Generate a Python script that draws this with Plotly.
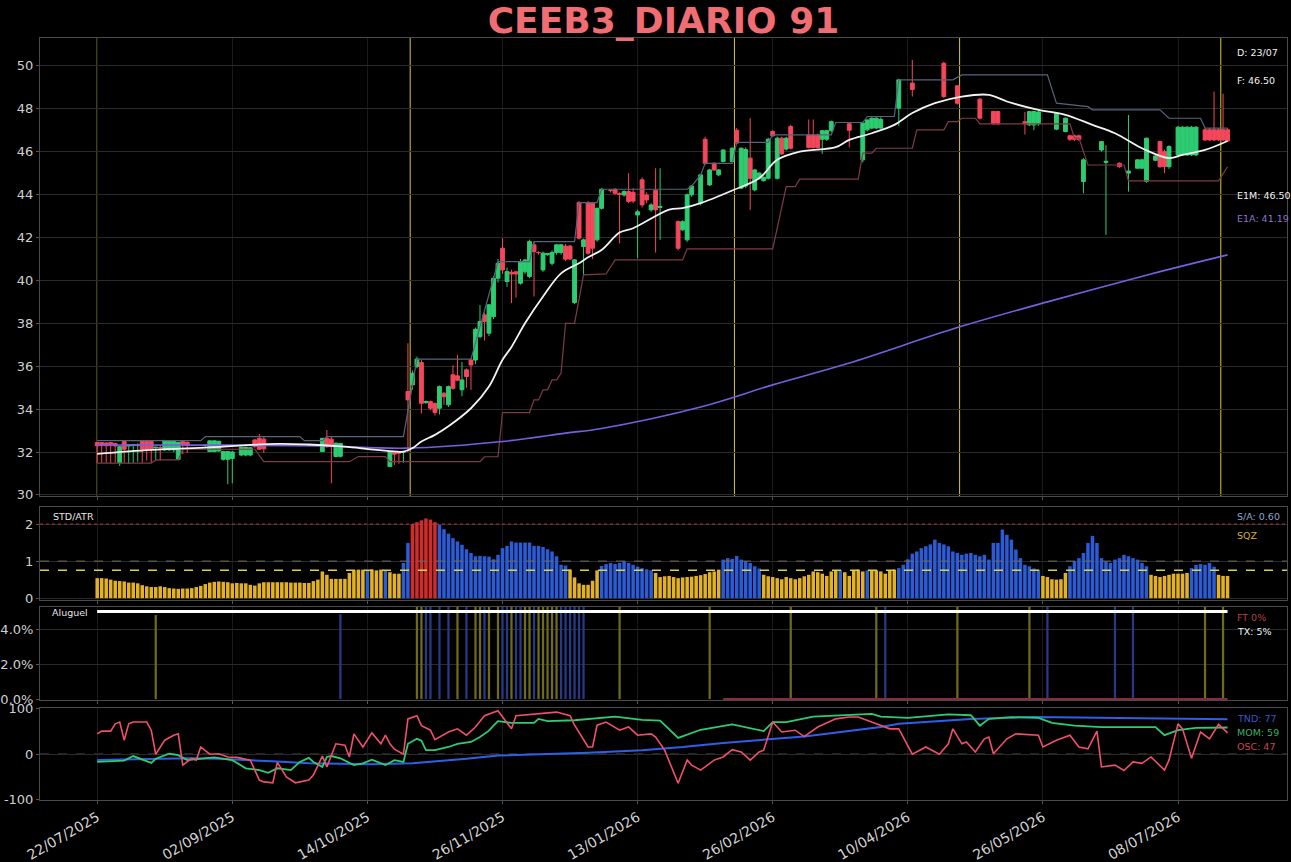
import plotly.graph_objects as go

# ---------------- data ----------------
TITLE = "CEEB3_DIARIO 91"
tick_idx = [0, 30, 60, 90, 120, 150, 180, 210, 240]
tick_labels = ["22/07/2025", "02/09/2025", "14/10/2025", "26/11/2025", "13/01/2026",
               "26/02/2026", "10/04/2026", "26/05/2026", "08/07/2026"]

open_ = [
    32.44, 32.44, 32.42, 32.44, 32.40, 31.50, 32.49, 32.28, 32.30, 32.30,
    32.49, 32.49, 32.49, 32.20, 32.20, 32.10, 32.10, 32.10, 31.66, 32.50,
    32.45, 32.30, 32.30, 32.30, 32.30, 32.02, 32.02, 32.05, 31.66, 31.66,
    31.70, 31.90, 31.86, 31.86, 31.86, 32.56, 32.64, 32.60, 32.20, 32.20,
    32.20, 32.20, 32.20, 32.20, 32.20, 32.20, 32.20, 32.20, 32.20, 32.20,
    32.02, 32.64, 32.60, 31.79, 31.80, 31.86, 32.05, 32.05, 32.05, 32.05,
    32.05, 32.05, 32.05, 32.05, 32.05, 31.32, 32.00, 32.00, 32.00, 34.82,
    35.13, 35.98, 36.17, 34.30, 34.35, 34.27, 34.04, 34.74, 34.20, 35.60,
    35.55, 34.90, 35.83, 36.29, 36.29, 37.38, 38.39, 37.54, 38.31, 40.10,
    41.50, 39.95, 40.38, 40.40, 39.87, 40.40, 40.18, 41.66, 41.30, 40.49,
    41.20, 40.80, 41.30, 41.30, 41.60, 41.60, 38.97, 43.63, 41.58, 43.63,
    43.60, 41.89, 43.36, 44.25, 44.20, 44.25, 44.05, 43.98, 44.14, 44.10,
    43.05, 44.69, 43.98, 43.29, 44.20, 43.40, 43.20, 43.00, 42.80, 42.74,
    42.36, 41.89, 43.99, 44.30, 43.60, 46.58, 44.45, 45.46, 44.92, 45.54,
    46.00, 45.54, 47.00, 44.30, 44.40, 45.70, 44.22, 44.76, 44.65, 44.76,
    46.94, 44.76, 46.63, 46.12, 47.17, 46.20, 46.20, 46.25, 46.78, 46.78,
    46.78, 46.58, 46.58, 46.98, 47.30, 47.30, 47.30, 47.30, 47.00, 47.00,
    45.62, 47.02, 47.10, 47.10, 47.10, 47.50, 47.60, 47.70, 48.03, 49.30,
    49.20, 49.20, 49.00, 49.00, 49.00, 49.00, 49.00, 49.00, 50.12, 48.60,
    48.60, 49.07, 48.30, 48.30, 48.30, 48.30, 48.45, 47.60, 47.60, 47.87,
    47.87, 47.35, 47.35, 47.35, 47.35, 47.35, 47.40, 47.25, 47.25, 47.30,
    47.80, 47.80, 47.80, 47.05, 47.60, 46.94, 46.74, 46.74, 46.74, 44.61,
    45.60, 45.60, 45.80, 46.08, 45.50, 45.50, 45.45, 45.46, 45.30, 45.00,
    45.20, 45.23, 45.23, 44.61, 45.70, 45.60, 46.47, 46.00, 45.30, 46.20,
    45.85, 45.85, 45.85, 45.85, 45.85, 47.10, 47.02, 47.02, 47.02, 47.02,
    47.02, 47.02,
]
high = [
    32.46, 32.46, 32.45, 32.45, 32.42, 32.30, 32.50, 32.35, 32.36, 32.40,
    32.50, 32.50, 32.52, 32.25, 32.30, 32.55, 32.54, 32.52, 32.47, 32.52,
    32.50, 32.35, 32.35, 32.35, 32.35, 32.54, 32.54, 32.52, 32.05, 32.05,
    32.05, 31.95, 32.25, 32.25, 32.22, 32.60, 32.84, 32.70, 32.24, 32.24,
    32.24, 32.24, 32.24, 32.24, 32.24, 32.24, 32.24, 32.24, 32.24, 32.24,
    32.66, 33.03, 32.70, 32.45, 32.42, 31.90, 32.08, 32.08, 32.08, 32.08,
    32.08, 32.08, 32.08, 32.08, 32.08, 32.05, 32.02, 32.02, 32.02, 37.07,
    35.80, 36.45, 36.30, 34.40, 34.40, 34.30, 35.10, 34.80, 35.10, 36.05,
    36.53, 36.20, 35.90, 36.35, 37.80, 38.85, 38.50, 38.90, 40.20, 41.00,
    41.97, 40.60, 40.50, 40.45, 41.00, 41.00, 41.90, 41.80, 41.35, 41.35,
    41.28, 41.40, 41.70, 41.70, 41.70, 41.65, 41.00, 43.70, 41.95, 43.70,
    43.65, 43.40, 44.30, 44.30, 44.25, 44.30, 44.10, 44.20, 45.00, 44.30,
    43.30, 44.80, 44.10, 43.60, 45.23, 45.23, 43.25, 43.05, 42.85, 42.80,
    42.80, 44.05, 44.45, 44.35, 44.95, 46.70, 45.20, 45.50, 45.20, 46.10,
    46.05, 46.20, 47.10, 46.20, 46.20, 47.56, 45.20, 45.05, 44.85, 46.65,
    47.00, 46.70, 46.70, 46.70, 47.25, 46.25, 46.25, 46.30, 47.50, 47.50,
    46.85, 47.00, 47.00, 47.45, 47.35, 47.35, 47.35, 47.35, 47.05, 47.05,
    47.40, 47.50, 47.60, 47.60, 47.60, 47.55, 47.65, 47.75, 49.40, 49.35,
    49.25, 50.28, 49.05, 49.05, 49.05, 49.05, 49.05, 49.05, 50.20, 48.65,
    48.65, 49.10, 48.35, 48.35, 48.35, 48.35, 48.50, 47.65, 47.65, 47.90,
    47.90, 47.40, 47.40, 47.40, 47.40, 47.40, 47.85, 47.90, 47.90, 47.90,
    47.85, 47.85, 47.85, 47.85, 47.65, 47.60, 46.80, 46.80, 46.80, 45.70,
    45.65, 45.65, 45.85, 46.50, 46.30, 45.55, 45.50, 45.50, 45.35, 47.71,
    45.25, 45.65, 45.65, 46.65, 45.75, 45.85, 46.50, 46.10, 46.30, 46.25,
    47.20, 47.20, 47.20, 47.20, 47.20, 47.15, 47.10, 47.10, 48.80, 47.10,
    48.70, 47.10,
]
low = [
    31.48, 31.50, 31.50, 31.48, 31.50, 31.35, 31.50, 31.45, 31.50, 31.55,
    31.50, 31.60, 31.50, 31.60, 31.60, 32.05, 32.05, 32.00, 31.62, 31.90,
    31.95, 32.25, 32.25, 32.25, 32.25, 32.00, 32.00, 32.00, 31.60, 30.50,
    30.54, 31.85, 31.80, 31.80, 31.80, 32.20, 32.10, 31.95, 32.16, 32.16,
    32.16, 32.16, 32.16, 32.16, 32.16, 32.16, 32.16, 32.16, 32.16, 32.16,
    32.00, 32.20, 30.54, 31.75, 31.75, 31.82, 32.02, 32.02, 32.02, 32.02,
    32.02, 32.02, 32.02, 32.02, 32.02, 31.30, 31.40, 31.45, 31.50, 32.00,
    34.90, 35.90, 33.80, 34.25, 33.95, 33.70, 33.75, 34.20, 34.10, 34.90,
    35.30, 34.60, 35.00, 34.90, 36.10, 37.30, 37.20, 37.40, 38.20, 39.90,
    40.30, 39.70, 38.94, 39.20, 39.80, 40.30, 40.10, 39.25, 41.20, 40.40,
    41.15, 40.70, 41.20, 41.20, 40.90, 40.95, 38.90, 41.90, 40.20, 41.20,
    41.00, 41.80, 43.30, 44.20, 44.10, 44.00, 41.73, 43.90, 43.60, 43.60,
    41.03, 43.40, 43.60, 43.20, 41.30, 41.89, 43.15, 42.95, 42.75, 41.40,
    42.30, 41.80, 43.90, 44.25, 43.50, 45.40, 44.40, 45.10, 44.85, 45.50,
    45.95, 45.50, 46.35, 44.25, 44.30, 43.29, 44.15, 44.70, 44.60, 44.70,
    46.70, 44.70, 45.85, 46.05, 46.10, 46.15, 46.15, 46.20, 46.15, 46.15,
    46.15, 45.90, 46.50, 46.90, 47.25, 47.25, 47.25, 46.20, 46.95, 46.95,
    45.50, 46.95, 47.05, 47.05, 47.05, 47.45, 47.55, 47.65, 47.20, 49.25,
    49.15, 48.57, 48.95, 48.95, 48.95, 48.95, 48.95, 48.95, 48.50, 48.55,
    48.55, 48.20, 48.25, 48.25, 48.25, 48.25, 47.50, 47.55, 47.55, 47.25,
    47.25, 47.30, 47.30, 47.30, 47.30, 47.30, 46.80, 47.20, 47.00, 47.20,
    47.75, 47.75, 47.75, 47.00, 47.55, 46.90, 46.50, 46.50, 46.50, 44.06,
    45.55, 45.55, 45.75, 46.00, 42.12, 45.45, 45.40, 45.25, 45.25, 44.14,
    45.15, 45.20, 45.20, 44.55, 45.65, 45.55, 45.25, 45.00, 45.20, 46.15,
    45.80, 45.80, 45.80, 45.80, 45.80, 47.05, 46.50, 46.50, 46.50, 46.50,
    46.50, 46.45,
]
close = [
    32.29, 32.30, 32.29, 32.30, 32.28, 32.25, 32.13, 32.33, 32.34, 32.33,
    32.13, 32.13, 32.15, 32.22, 32.20, 32.52, 32.52, 32.50, 32.45, 32.35,
    32.30, 32.30, 32.30, 32.30, 32.32, 32.52, 32.52, 32.50, 32.02, 32.02,
    32.00, 31.90, 32.22, 32.22, 32.20, 32.25, 32.13, 32.15, 32.20, 32.20,
    32.20, 32.20, 32.20, 32.20, 32.20, 32.20, 32.20, 32.20, 32.20, 32.20,
    32.64, 32.25, 32.30, 32.41, 32.40, 31.86, 32.05, 32.05, 32.05, 32.05,
    32.05, 32.05, 32.05, 32.05, 32.05, 32.02, 31.90, 31.95, 32.00, 34.43,
    35.67, 36.33, 34.27, 34.35, 34.04, 33.84, 35.05, 34.58, 35.05, 34.97,
    35.35, 35.36, 35.52, 36.06, 37.72, 38.08, 38.08, 38.86, 40.10, 40.80,
    40.49, 40.41, 40.30, 40.30, 40.88, 40.95, 41.81, 41.34, 41.30, 41.27,
    41.25, 41.30, 41.66, 41.66, 40.99, 41.00, 40.96, 41.97, 41.89, 41.27,
    41.50, 43.36, 44.25, 44.25, 44.20, 44.06, 44.00, 44.14, 43.68, 43.70,
    43.20, 43.52, 43.75, 43.52, 43.29, 43.45, 43.20, 43.00, 42.80, 41.50,
    42.74, 43.99, 44.40, 44.30, 44.92, 45.46, 45.15, 45.15, 45.15, 46.08,
    46.00, 46.16, 46.40, 46.16, 46.10, 44.76, 45.15, 45.00, 44.80, 46.58,
    46.74, 46.63, 45.90, 46.63, 46.16, 46.20, 46.20, 46.25, 46.20, 46.20,
    46.20, 46.98, 46.98, 47.40, 47.30, 47.30, 47.30, 47.00, 47.00, 47.00,
    47.33, 47.48, 47.56, 47.56, 47.50, 47.50, 47.60, 47.70, 49.35, 49.30,
    49.20, 48.90, 49.00, 49.00, 49.00, 49.00, 49.00, 49.00, 48.57, 48.60,
    48.60, 48.26, 48.30, 48.30, 48.30, 48.30, 47.56, 47.60, 47.60, 47.30,
    47.30, 47.35, 47.35, 47.35, 47.35, 47.35, 47.30, 47.87, 47.87, 47.85,
    47.80, 47.80, 47.80, 47.79, 47.60, 47.56, 46.58, 46.58, 46.58, 45.62,
    45.60, 45.60, 45.80, 46.47, 45.55, 45.50, 45.45, 45.30, 45.30, 45.10,
    45.20, 45.62, 45.62, 46.63, 45.70, 45.80, 45.30, 45.30, 46.24, 46.20,
    47.14, 47.14, 47.14, 47.14, 47.14, 47.10, 46.55, 46.55, 46.55, 46.55,
    46.55, 46.50,
]

e1m_idx = [0, 12, 25, 40, 47, 55, 62, 68, 70, 72, 75, 78, 83, 87, 90, 92, 95, 99, 103, 107,
           109, 112, 116, 119, 127, 130, 134, 141, 147, 151, 156, 164, 167, 172, 177, 181,
           186, 192, 198, 202, 209, 215, 221, 226, 232, 238, 241, 246, 251]
e1m_val = [31.91, 32.10, 32.22, 32.38, 32.35, 32.25, 32.10, 32.02, 32.18, 32.49, 32.80, 33.20,
           34.04, 35.05, 36.30, 36.90, 38.00, 39.25, 40.33, 40.80, 41.08, 41.42, 42.23, 42.43,
           43.30, 43.37, 43.60, 44.19, 44.76, 45.62, 46.00, 46.21, 46.55, 46.86, 47.25, 47.80,
           48.26, 48.57, 48.65, 48.34, 47.95, 47.72, 47.25, 46.86, 46.16, 45.70, 45.85, 46.08,
           46.50]
e1a_idx = [0, 30, 50, 69, 90, 104, 112, 134, 150, 167, 191, 211, 234, 251]
e1a_val = [32.33, 32.32, 32.28, 32.18, 32.49, 32.88, 33.10, 34.10, 35.13, 36.15, 37.80, 39.00,
           40.30, 41.19]

# channel (upper / lower)
up_idx = [0, 23, 24, 45, 46, 50, 51, 68, 71, 83, 88, 89, 96, 97, 106, 107, 111, 112, 131, 132,
          134, 135, 141, 142, 149, 150, 163, 164, 170, 171, 177, 178, 190, 192, 211, 213, 220,
          221, 236, 238, 245, 246, 251]
up_val = [32.53, 32.53, 32.72, 32.72, 32.53, 32.53, 32.72, 32.72, 36.33, 36.33, 40.10, 40.88,
          40.88, 41.81, 41.81, 43.63, 43.63, 44.25, 44.25, 44.40, 44.92, 45.46, 45.46, 46.43,
          46.43, 46.78, 46.78, 47.36, 47.36, 47.64, 47.64, 49.35, 49.35, 49.58, 49.58, 48.26,
          48.10, 47.95, 47.95, 47.56, 47.56, 47.10, 47.10]
lo_idx = [0, 12, 13, 18, 19, 35, 37, 56, 58, 64, 65, 85, 86, 89, 90, 96, 97, 98, 99, 100,
          101, 102, 103, 104, 106, 108, 113, 115, 130, 131, 150, 153, 155, 156, 169, 170, 172,
          173, 181, 182, 188, 189, 191, 192, 195, 196, 216, 217, 218, 220, 228, 229, 249, 251]
lo_val = [31.48, 31.48, 31.63, 31.63, 32.13, 32.13, 31.55, 31.55, 31.79, 31.79, 31.55, 31.55,
          31.78, 31.78, 33.84, 33.84, 34.43, 34.43, 34.90, 34.90, 35.36, 35.36, 35.67, 38.00,
          38.00, 40.26, 40.30, 40.96, 40.96, 41.47, 41.47, 44.37, 44.37, 44.72, 44.72, 45.93,
          45.93, 46.16, 46.16, 47.02, 47.02, 47.40, 47.40, 47.56, 47.56, 47.30, 47.30, 46.63,
          46.63, 45.38, 45.38, 44.64, 44.64, 45.30]

signal_idx = [0, 69.5, 141.5, 191.5, 249.5]

# STD/ATR
std_atr = [
    0.54, 0.54, 0.53, 0.50, 0.47, 0.46, 0.45, 0.42, 0.42, 0.40,
    0.35, 0.32, 0.30, 0.30, 0.32, 0.30, 0.27, 0.26, 0.25, 0.26,
    0.26, 0.27, 0.30, 0.33, 0.38, 0.42, 0.44, 0.45, 0.44, 0.43,
    0.40, 0.41, 0.40, 0.40, 0.36, 0.34, 0.40, 0.43, 0.43, 0.43,
    0.43, 0.43, 0.43, 0.42, 0.42, 0.42, 0.41, 0.41, 0.46, 0.50,
    0.72, 0.63, 0.52, 0.52, 0.52, 0.52, 0.68, 0.75, 0.77, 0.77,
    0.75, 0.77, 0.75, 0.77, 0.75, 0.70, 0.66, 0.66, 0.95, 1.49,
    2.00, 2.05, 2.10, 2.15, 2.12, 2.05, 1.98, 1.86, 1.74, 1.62,
    1.53, 1.44, 1.32, 1.22, 1.13, 1.14, 1.13, 1.12, 1.05, 1.17,
    1.35, 1.41, 1.53, 1.50, 1.50, 1.50, 1.50, 1.41, 1.41, 1.38,
    1.32, 1.26, 1.13, 0.90, 0.88, 0.77, 0.56, 0.40, 0.36, 0.36,
    0.47, 0.75, 0.87, 0.92, 0.95, 0.92, 0.95, 1.00, 0.95, 0.90,
    0.85, 0.81, 0.78, 0.75, 0.68, 0.57, 0.59, 0.60, 0.57, 0.54,
    0.56, 0.57, 0.58, 0.60, 0.62, 0.65, 0.70, 0.72, 0.77, 1.04,
    1.08, 1.06, 1.14, 1.04, 1.00, 0.95, 0.86, 0.80, 0.63, 0.59,
    0.57, 0.54, 0.51, 0.57, 0.54, 0.51, 0.54, 0.59, 0.63, 0.72,
    0.70, 0.66, 0.60, 0.72, 0.75, 0.76, 0.70, 0.60, 0.75, 0.77,
    0.72, 0.75, 0.74, 0.75, 0.72, 0.66, 0.75, 0.77, 0.81, 0.90,
    1.05, 1.20, 1.26, 1.35, 1.40, 1.45, 1.58, 1.49, 1.45, 1.40,
    1.26, 1.22, 1.17, 1.20, 1.22, 1.17, 1.13, 1.17, 1.04, 1.49,
    1.49, 1.85, 1.71, 1.58, 1.31, 1.08, 0.90, 0.86, 0.80, 0.77,
    0.60, 0.57, 0.51, 0.50, 0.51, 0.68, 0.86, 1.00, 1.08, 1.22,
    1.49, 1.68, 1.49, 1.08, 0.99, 0.95, 1.04, 1.08, 1.17, 1.13,
    1.08, 1.04, 0.95, 0.86, 0.63, 0.60, 0.57, 0.60, 0.63, 0.66,
    0.66, 0.66, 0.68, 0.81, 0.90, 0.92, 0.90, 0.95, 0.85, 0.63,
    0.60, 0.60,
]
# regime of each STD/ATR bar, run-length: (regime, number of bars)
std_regime_runs = [("Y", 60), ("B", 1), ("Y", 3), ("B", 1), ("Y", 3), ("B", 2), ("R", 6),
                   ("B", 29), ("Y", 7), ("B", 12), ("Y", 15), ("B", 9), ("Y", 17), ("B", 1),
                   ("Y", 5), ("B", 1), ("Y", 6), ("B", 32), ("Y", 6), ("B", 18), ("Y", 9),
                   ("B", 6), ("Y", 3)]
std_levels = {"high": 2.0, "mid": 1.0, "sqz": 0.75}

# Aluguel
alu_olive_idx = [13, 71, 72, 80, 84, 85, 87, 89, 92, 95, 96, 98, 99, 100, 101, 102, 116, 136,
                 154, 173, 191, 207, 246, 250]
alu_olive_val = [4.8, 5.3, 5.3, 5.3, 5.3, 5.3, 5.3, 5.3, 5.3, 5.3, 5.3, 5.3, 5.3, 5.3, 5.3, 5.3,
                 5.3, 5.3, 5.3, 5.3, 5.3, 5.3, 5.3, 5.3]
alu_blue_idx = [54, 73, 74, 76, 78, 82, 86, 90, 91, 93, 94, 97, 103, 104, 105, 106, 107, 108,
                175, 211, 226, 230]
alu_blue_val = [4.85, 5.3, 5.3, 5.3, 5.3, 5.3, 5.3, 5.3, 5.3, 5.3, 5.3, 5.3, 5.3, 5.3, 5.3, 5.3,
                5.3, 5.3, 5.3, 5.3, 5.3, 5.3]
tx_rate = 5.0
ft_rate = 0.0
ft_start = 139

# oscillators
osc_ticks = [-100, 0, 100]
osc_tick_labels = ["-100", "0", "100"]
tnd_idx = [0, 10, 20, 27, 33, 40, 47, 55, 61, 70, 77, 82, 89, 98, 109, 121, 130, 139, 148, 157,
           162, 168, 174, 178, 185, 194, 208, 231, 251]
tnd_val = [-13, -11, -9, -10, -12, -16, -20, -22, -22, -20, -15, -10, -3, 0, 3, 9, 16, 25, 32,
           39, 45, 53, 60, 67, 72, 78, 82, 80, 77]
mom_idx = [0, 6, 8, 12, 13, 16, 18, 20, 26, 30, 33, 36, 38, 40, 43, 45, 47, 48, 50, 51,
           52, 54, 57, 59, 61, 64, 66, 68, 69, 71, 72, 73, 75, 78, 80, 83, 85, 87, 88, 89,
           92, 97, 98, 100, 106, 109, 115, 121, 125, 129, 134, 141, 148, 150, 153, 159, 172,
           174, 180, 189, 194, 196, 198, 203, 209, 212, 217, 223, 231, 235, 237, 240, 244, 251]
mom_val = [-17, -14, -4, -19, -10, 1, -2, -13, -7, -13, -31, -35, -41, -31, -35, -17, -8, -17,
           -28, -6, -4, -9, -24, -20, -12, -24, -13, -17, 23, 34, 30, 9, 9, 16, 23, 27, 38, 52,
           63, 73, 69, 69, 78, 73, 75, 78, 83, 76, 74, 36, 54, 66, 51, 71, 71, 83, 89, 83, 80,
           88, 86, 63, 78, 82, 80, 69, 63, 60, 61, 60, 42, 53, 58, 59]
osc_idx = [0, 1, 3, 4, 5, 6, 7, 8, 11, 12, 13, 15, 17, 18, 19, 21, 22, 23, 25, 27, 29, 31, 34,
           36, 37, 39, 40, 42, 44, 47, 48, 50, 51, 53, 55, 56, 57, 59, 61, 63, 64, 65, 66, 68,
           69, 71, 72, 74, 75, 78, 80, 82, 84, 86, 89, 92, 93, 98, 102, 105, 106, 109, 110, 111,
           113, 116, 118, 120, 123, 124, 126, 129, 131, 132, 134, 135, 137, 139, 141, 143, 145,
           147, 148, 150, 152, 155, 157, 160, 164, 167, 169, 173, 176, 178, 181, 184, 187, 189,
           190, 192, 193, 195, 197, 198, 199, 202, 204, 209, 210, 213, 216, 218, 220, 222, 223,
           226, 228, 230, 232, 234, 237, 238, 240, 241, 243, 245, 247, 249, 251]
osc_val = [45, 51, 51, 67, 71, 31, 67, 71, 71, 53, 0, 31, 42, 45, -24, -9, -13, 16, 0, 1, -6, -7,
           -13, -57, -61, -63, -18, -50, -63, -57, -46, -4, -28, 23, 20, -6, 45, 16, 47, 23, 42,
           23, 11, 0, 78, 85, 63, 53, 32, 49, 56, 42, 60, 85, 96, 56, 85, 89, 93, 85, 64, 16, 16,
           64, 71, 53, 60, 42, 45, 38, 9, -64, -13, -24, -35, -28, -13, -6, 10, 5, -13, 5, 9, 71,
           49, 53, 39, 60, 78, 82, 82, 67, 56, 56, 0, 16, 0, 23, 56, 23, 27, 5, 34, 38, 1, 34, 45,
           42, 16, 31, 42, 16, 12, 51, -28, -24, -36, -17, -20, -6, -35, -13, 67, 56, -9, 49, 34,
           66, 47]

labels_right = {"D": "23/07", "F": "46.50", "E1M": "46.50", "E1A": "41.19", "S/A": "0.60",
                "FT": "0%", "TX": "5%", "TND": "77", "MOM": "59", "OSC": "47"}

for name, arr in [("open", open_), ("high", high), ("low", low), ("close", close), ("std", std_atr)]:
    assert len(arr) == 252, (name, len(arr))
assert len(e1m_idx) == len(e1m_val) and len(up_idx) == len(up_val) and len(lo_idx) == len(lo_val)
assert len(mom_idx) == len(mom_val) and len(osc_idx) == len(osc_val) and len(tnd_idx) == len(tnd_val)

# ---------------- styling ----------------
GREEN = "#2ecc71"
RED = "#f4475b"
REGIME_COLORS = {"Y": "#e3b224", "B": "#2c5bd6", "R": "#d22b2b"}
FONT = "DejaVu Sans"
bar_idx = list(range(len(close)))
std_colors = []
for code, n in std_regime_runs:
    std_colors += [REGIME_COLORS[code]] * n

# days without any price movement are not drawn as candles
traded = [not (o == c and h - l <= 0.11) for o, h, l, c in zip(open_, high, low, close)]
c_x = [i for i, t in zip(bar_idx, traded) if t]
c_o = [v for v, t in zip(open_, traded) if t]
c_h = [v for v, t in zip(high, traded) if t]
c_l = [v for v, t in zip(low, traded) if t]
c_c = [v for v, t in zip(close, traded) if t]

W, H = 1291, 862
ML, MR, MT, MB = 40, 4, 38, 62
PH = H - MT - MB


def py(ypix):
    return (H - MB - ypix) / PH


def px(xpix):
    return (xpix - ML) / (W - ML - MR)


fig = go.Figure()

# main panel
fig.add_trace(go.Scatter(x=up_idx, y=up_val, mode="lines", line=dict(color="#56647a", width=1.2),
                         xaxis="x", yaxis="y", hoverinfo="skip"))
fig.add_trace(go.Scatter(x=lo_idx, y=lo_val, mode="lines", line=dict(color="#7d3d47", width=1.2),
                         xaxis="x", yaxis="y", hoverinfo="skip"))
fig.add_trace(go.Candlestick(x=c_x, open=c_o, high=c_h, low=c_l, close=c_c,
                             increasing=dict(line=dict(color=GREEN, width=1), fillcolor=GREEN),
                             decreasing=dict(line=dict(color=RED, width=1), fillcolor=RED),
                             whiskerwidth=0, xaxis="x", yaxis="y", hoverinfo="skip"))
fig.add_trace(go.Scatter(x=e1a_idx, y=e1a_val, mode="lines", line=dict(color="#7a5ee0", width=1.6),
                         line_shape="spline", xaxis="x", yaxis="y", hoverinfo="skip"))
fig.add_trace(go.Scatter(x=e1m_idx, y=e1m_val, mode="lines", line=dict(color="#f2f2f2", width=1.8),
                         line_shape="spline", xaxis="x", yaxis="y", hoverinfo="skip"))

# STD/ATR
fig.add_trace(go.Bar(x=bar_idx, y=std_atr, marker=dict(color=std_colors, line=dict(width=0)),
                     width=0.78, xaxis="x2", yaxis="y2", hoverinfo="skip"))

# Aluguel
fig.add_trace(go.Bar(x=alu_olive_idx, y=alu_olive_val, marker=dict(color="#6e6a1e", line=dict(width=0)),
                     width=0.5, xaxis="x3", yaxis="y3", hoverinfo="skip"))
fig.add_trace(go.Bar(x=alu_blue_idx, y=alu_blue_val, marker=dict(color="#283a86", line=dict(width=0)),
                     width=0.5, xaxis="x3", yaxis="y3", hoverinfo="skip"))
fig.add_trace(go.Scatter(x=bar_idx, y=[tx_rate] * len(bar_idx), mode="lines",
                         line=dict(color="#ffffff", width=3), xaxis="x3", yaxis="y3", hoverinfo="skip"))
fig.add_trace(go.Scatter(x=bar_idx[ft_start:], y=[ft_rate] * len(bar_idx[ft_start:]), mode="lines",
                         line=dict(color="#8b2a3a", width=2), xaxis="x3", yaxis="y3", hoverinfo="skip"))

# oscillators
fig.add_trace(go.Scatter(x=tnd_idx, y=tnd_val, mode="lines", line=dict(color="#2f5fe8", width=2),
                         xaxis="x4", yaxis="y4", hoverinfo="skip"))
fig.add_trace(go.Scatter(x=mom_idx, y=mom_val, mode="lines", line=dict(color="#2ecc71", width=1.8),
                         xaxis="x4", yaxis="y4", hoverinfo="skip"))
fig.add_trace(go.Scatter(x=osc_idx, y=osc_val, mode="lines", line=dict(color="#f0506a", width=1.6),
                         xaxis="x4", yaxis="y4", hoverinfo="skip"))

shapes = []
for s in signal_idx:
    shapes.append(dict(type="line", xref="x", yref="y domain", x0=s, x1=s, y0=0, y1=1,
                       line=dict(color="#d8c83a", width=1), layer="below"))
shapes.append(dict(type="line", xref="x2 domain", yref="y2", x0=0, x1=1, y0=std_levels["high"],
                   y1=std_levels["high"], line=dict(color="#b8303f", width=1, dash="dot")))
shapes.append(dict(type="line", xref="x2 domain", yref="y2", x0=0, x1=1, y0=std_levels["mid"],
                   y1=std_levels["mid"], line=dict(color="#6a6a6a", width=1, dash="dash")))
shapes.append(dict(type="line", xref="x2 domain", yref="y2", x0=0, x1=1, y0=std_levels["sqz"],
                   y1=std_levels["sqz"], line=dict(color="#dcd43a", width=1.5, dash="dash")))
shapes.append(dict(type="line", xref="x4 domain", yref="y4", x0=0, x1=1, y0=0, y1=0,
                   line=dict(color="#8a8a8a", width=1, dash="dash"), layer="below"))

AX_LINE = "#4a4a4a"
GRID = "#2a2a2a"
xcommon = dict(range=[-12.7, 264.2], tickmode="array", tickvals=tick_idx, ticktext=tick_labels,
               showgrid=True, gridcolor="#1a1a1a", zeroline=False, showline=True, mirror=True,
               linecolor=AX_LINE, ticks="outside", ticklen=3, tickcolor="#555", automargin=False)
ycommon = dict(showgrid=True, gridcolor=GRID, zeroline=False, showline=True, mirror=True,
               linecolor=AX_LINE, ticks="outside", ticklen=3, tickcolor="#555", automargin=False,
               tickfont=dict(size=13, color="#cfcfcf", family=FONT))

layout = dict(
    width=W, height=H, margin=dict(l=ML, r=MR, t=MT, b=MB, autoexpand=False),
    paper_bgcolor="#000000", plot_bgcolor="#000000", showlegend=False,
    barmode="overlay", boxgap=0.1, boxgroupgap=0.05,
    font=dict(family=FONT, color="#cfcfcf"),
    title=dict(text="<b>" + TITLE + "</b>", x=0.5, xref="paper", xanchor="center",
               y=1 - 20 / H, yref="container", yanchor="middle",
               font=dict(family=FONT, size=36, color="#f06e73")),
    xaxis=dict(**xcommon, anchor="y", showticklabels=False, rangeslider=dict(visible=False)),
    xaxis2=dict(**xcommon, anchor="y2", matches="x", showticklabels=False),
    xaxis3=dict(**xcommon, anchor="y3", matches="x", showticklabels=False),
    xaxis4=dict(**xcommon, anchor="y4", matches="x", showticklabels=True, tickangle=-30,
                tickfont=dict(size=14, color="#d2d2d2", family=FONT)),
    yaxis=dict(**ycommon, domain=[py(496), 1.0], range=[29.95, 51.3], tickvals=list(range(30, 51, 2))),
    yaxis2=dict(**ycommon, domain=[py(600), py(507)], range=[-0.05, 2.46], tickvals=[0, 1, 2]),
    yaxis3=dict(**ycommon, domain=[py(700), py(607)], range=[-0.05, 5.26], tickvals=[0, 2, 4],
                ticktext=["0.0%", "2.0%", "4.0%"]),
    yaxis4=dict(**ycommon, domain=[0, py(708)], range=[-101, 102], tickvals=osc_ticks,
                ticktext=osc_tick_labels),
    shapes=shapes,
)
fig.update_layout(**layout)


def note(text, xpix, ypix, color, size=9.5):
    fig.add_annotation(text=text, xref="paper", yref="paper", x=px(xpix), y=py(ypix),
                       xanchor="left", yanchor="middle", showarrow=False,
                       font=dict(family=FONT, size=size, color=color))


note("D: " + labels_right["D"], 1235, 53, "#f0f0f0")
note("F: " + labels_right["F"], 1235, 80, "#f0f0f0")
note("E1M: " + labels_right["E1M"], 1235, 195, "#f0f0f0")
note("E1A: " + labels_right["E1A"], 1235, 218, "#8c74c8")
note("STD/ATR", 51, 516, "#e6e6e6")
note("S/A: " + labels_right["S/A"], 1235, 516, "#8ea6cf")
note("SQZ", 1235, 535, "#d4b030")
note("Aluguel", 50, 612, "#e6e6e6")
note("FT " + labels_right["FT"], 1235, 617, "#b8404c")
note("TX: " + labels_right["TX"], 1235, 631, "#f0f0f0")
note("TND: " + labels_right["TND"], 1235, 718, "#3a55c8")
note("MOM: " + labels_right["MOM"], 1235, 732, "#3fae6c")
note("OSC: " + labels_right["OSC"], 1235, 746, "#c8485a")

fig.write_html("out.html")
